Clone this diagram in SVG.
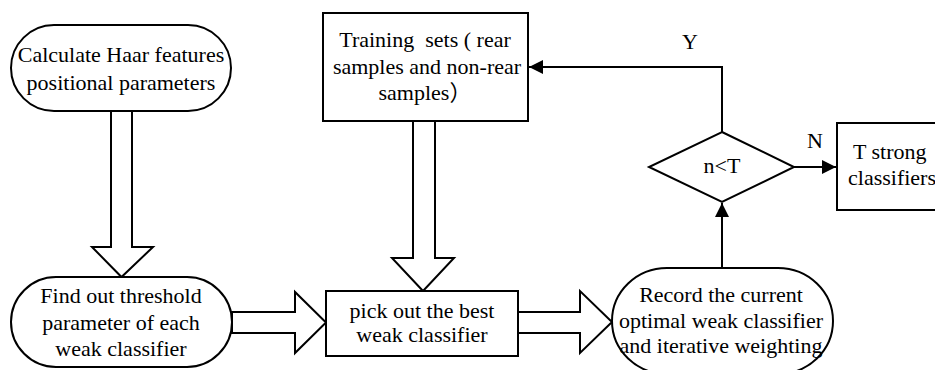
<svg xmlns="http://www.w3.org/2000/svg" width="935" height="370" viewBox="0 0 935 370">
<style>
.n{fill:#fff;stroke:#000;stroke-width:2}
.t{font-family:'Liberation Serif','Times New Roman',serif;font-size:22px;fill:#000;text-anchor:middle;white-space:pre}
.k{font-family:'Liberation Serif','Noto Sans CJK SC',serif}
.s{text-anchor:start}
.c{fill:none;stroke:#000;stroke-width:2}
.h{fill:#fff;stroke:#000;stroke-width:2;stroke-linejoin:miter}
</style>
<defs>
<marker id="a" markerUnits="userSpaceOnUse" markerWidth="16" markerHeight="16" refX="14" refY="7" orient="auto">
<path d="M0,0 L14,7 L0,14 Z" fill="#000"/>
</marker>
</defs>
<rect width="935" height="370" fill="#fff"/>
<g id="connectors">
<polygon class="h" points="111,111 132,111 132,247 153,247 121.5,277 92,247 111,247"/>
<polygon class="h" points="413,121 435,121 435,258 454,258 423,291 392,258 413,258"/>
<polygon class="h" points="232,312 295,312 295,292 326,322.5 295,353 295,333 232,333"/>
<polygon class="h" points="518,312 580,312 580,291 612,322 580,353 580,333 518,333"/>
<path class="c" d="M722,268 L722,203" marker-end="url(#a)"/>
<path class="c" d="M722,132 L722,67 L529,67" marker-end="url(#a)"/>
<path class="c" d="M794,167 L836,167" marker-end="url(#a)"/>
<text class="t" x="690" y="49">Y</text>
<text class="t" x="815" y="148">N</text>
</g>
<g id="calc">
<rect class="n" x="11" y="25" width="220" height="86" rx="43" ry="43"/>
<text class="t" x="121" y="62">Calculate Haar features</text>
<text class="t" x="121" y="90">positional parameters</text>
</g>
<g id="training">
<rect class="n" x="323" y="13" width="205" height="108"/>
<text class="t" x="425" y="47">Training  sets ( rear</text>
<text class="t" x="427" y="74">samples and non-rear</text>
<text class="t" x="425" y="100">samples<tspan class="k">）</tspan></text>
</g>
<g id="findout">
<rect class="n" x="11" y="277" width="221" height="90" rx="45" ry="45"/>
<text class="t" x="121" y="303">Find out threshold</text>
<text class="t" x="121" y="330">parameter of each</text>
<text class="t" x="121" y="356">weak classifier</text>
</g>
<g id="pick">
<rect class="n" x="326" y="291" width="192" height="65"/>
<text class="t" x="422" y="318">pick out the best</text>
<text class="t" x="422" y="342">weak classifier</text>
</g>
<g id="record">
<rect class="n" x="612" y="268" width="221" height="106" rx="55" ry="53"/>
<text class="t" x="721" y="302">Record the current</text>
<text class="t" x="721" y="328">optimal weak classifier</text>
<text class="t" x="721" y="353">and iterative weighting</text>
</g>
<g id="decision">
<polygon class="n" points="722,132 794,167 722,202 649,167"/>
<text class="t" x="722" y="173">n&lt;T</text>
</g>
<g id="strong">
<rect class="n" x="837" y="123" width="110" height="87"/>
<text class="t s" x="853" y="159">T strong</text>
<text class="t s" x="848" y="185">classifiers</text>
</g>
</svg>
